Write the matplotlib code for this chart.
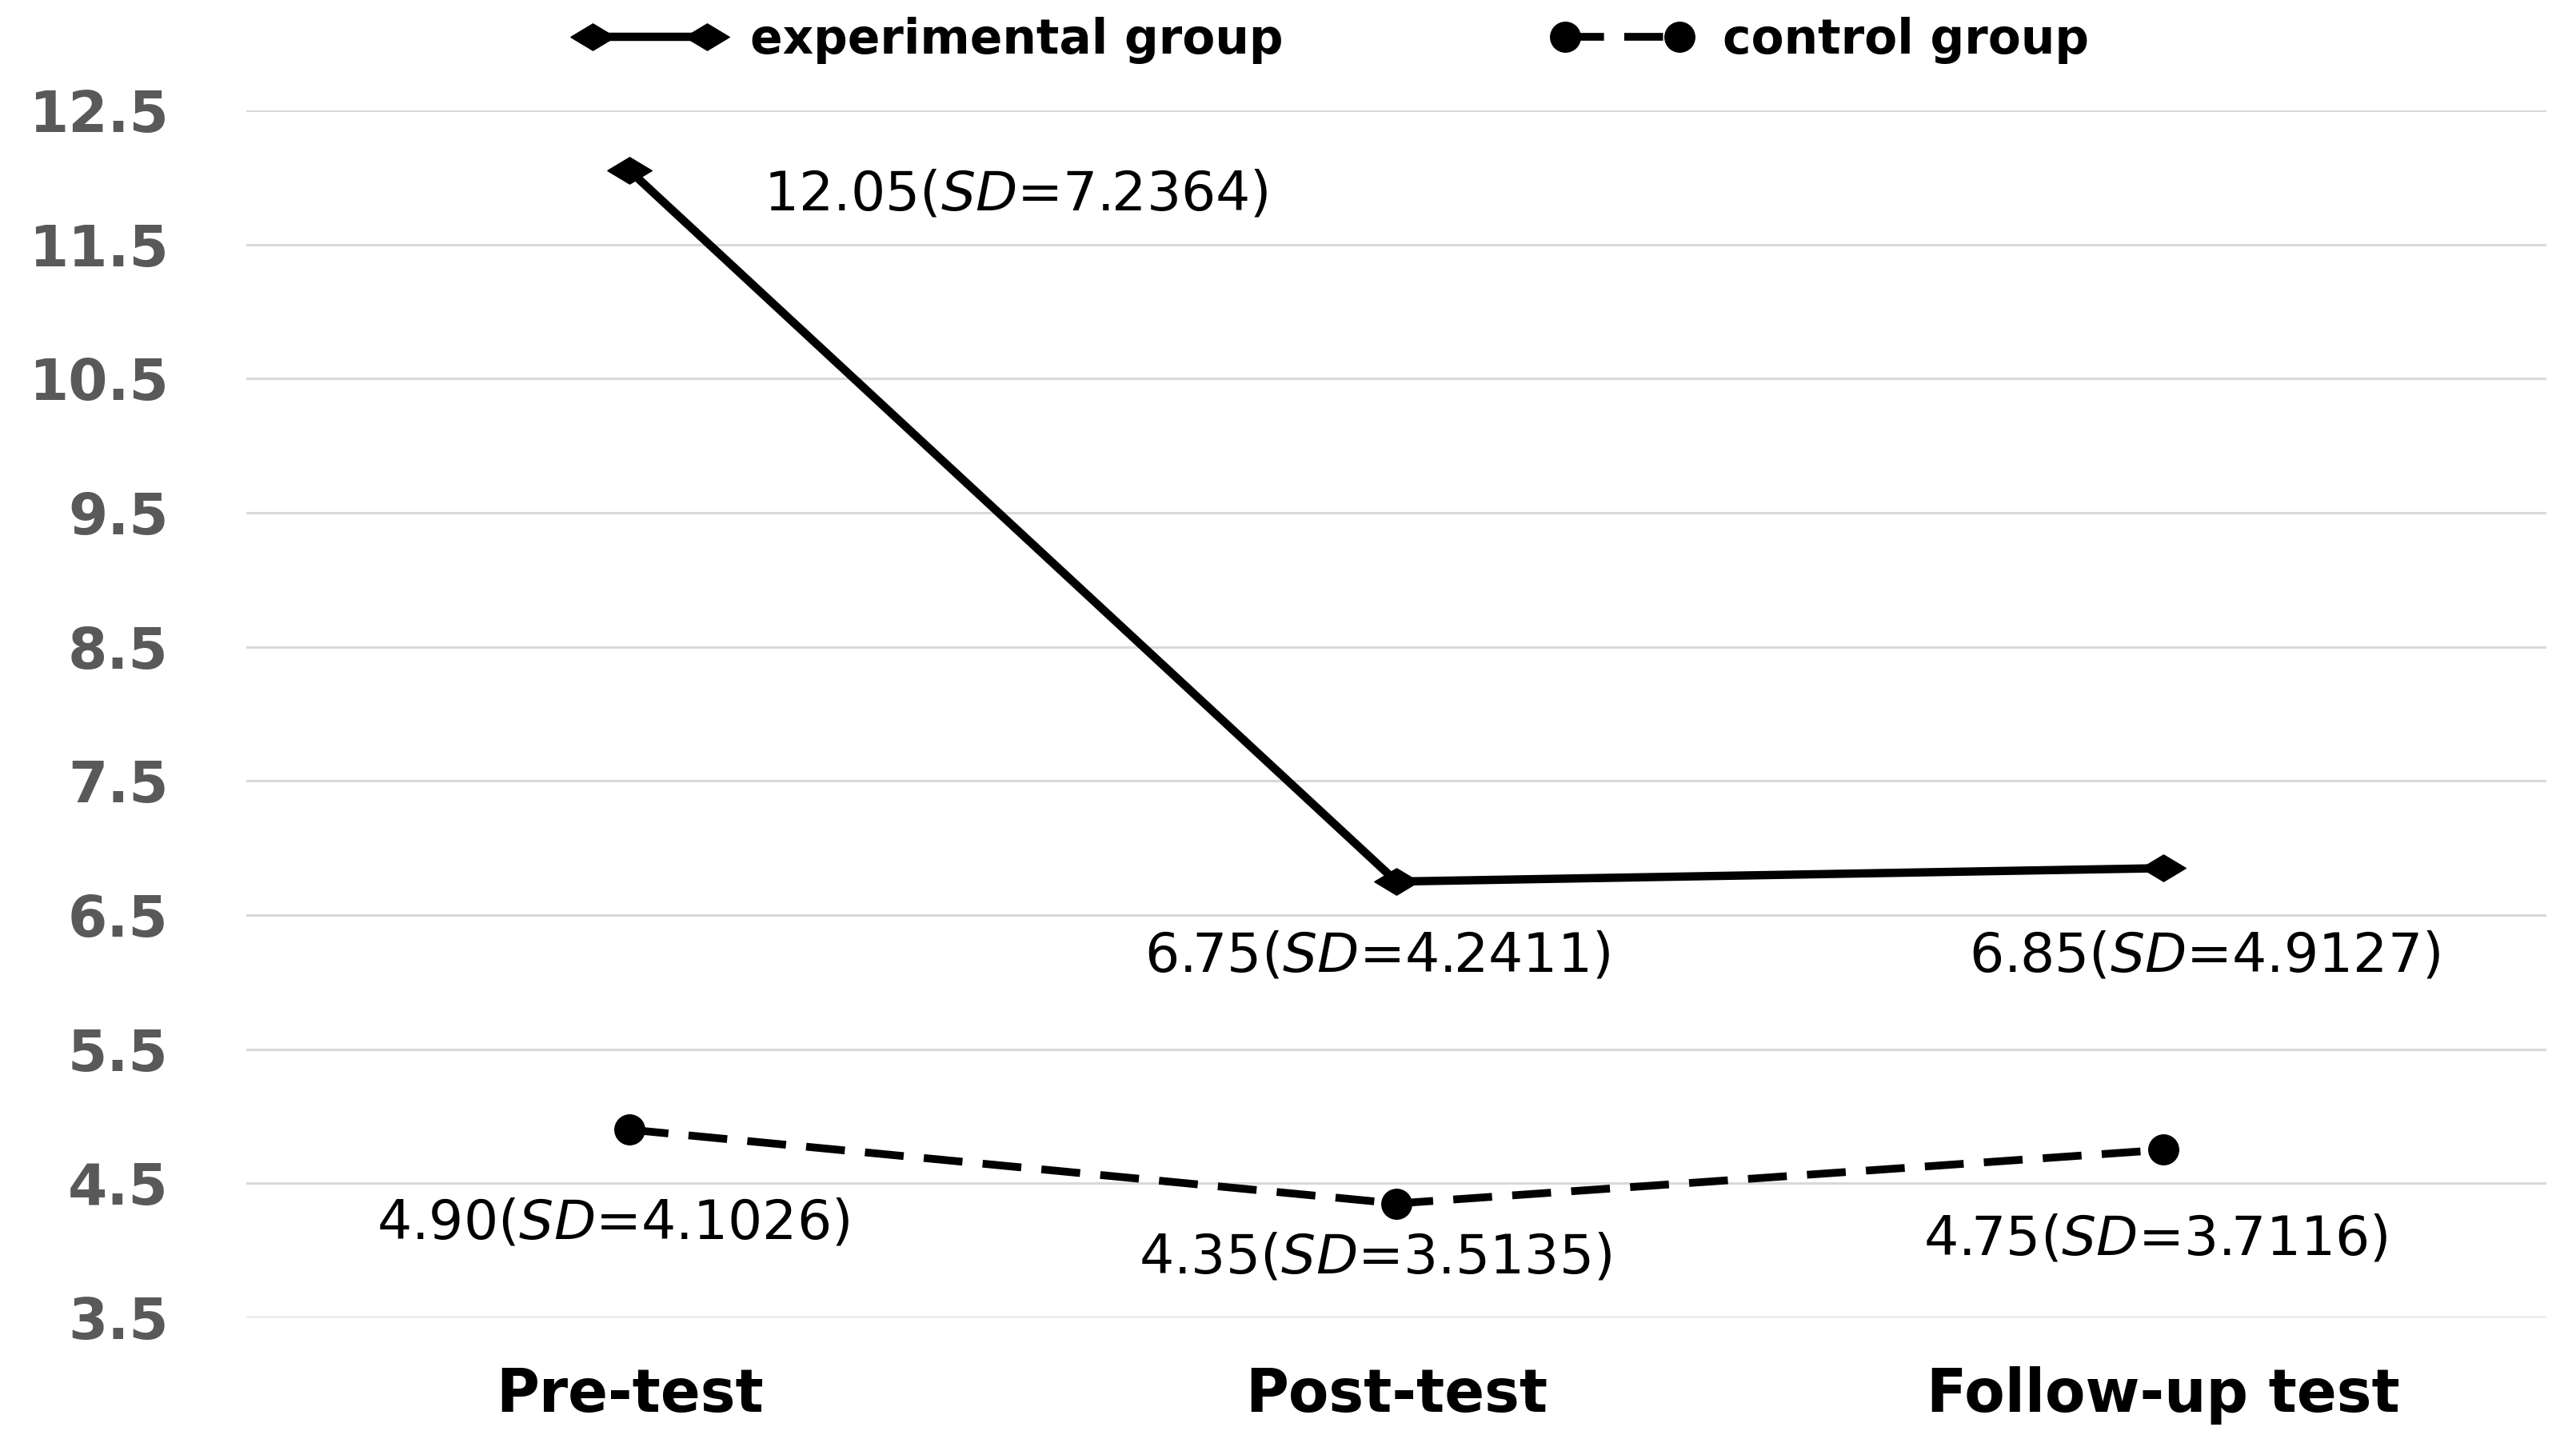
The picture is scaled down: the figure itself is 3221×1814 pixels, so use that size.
import matplotlib
matplotlib.use("Agg")
import matplotlib.pyplot as plt

# data
tests = ["Pre-test", "Post-test", "Follow-up test"]
exp_mean = [12.05, 6.75, 6.85]
exp_sd = [7.2364, 4.2411, 4.9127]
ctrl_mean = [4.90, 4.35, 4.75]
ctrl_sd = [4.1026, 3.5135, 3.7116]
yticks = [3.5, 4.5, 5.5, 6.5, 7.5, 8.5, 9.5, 10.5, 11.5, 12.5]

plt.rcParams['font.family'] = ['DejaVu Sans']
plt.rcParams['mathtext.fontset'] = 'custom'
plt.rcParams['mathtext.it'] = 'DejaVu Sans:italic'
plt.rcParams['mathtext.rm'] = 'DejaVu Sans'

fig = plt.figure(figsize=(32.21, 18.14), dpi=100)
ax = fig.add_axes([0.0956, 0.092, 0.893, 0.832])

x = list(range(len(tests)))

# diamond, a bit flatter than tall
diamond = [(-1, 0), (0, 0.6), (1, 0), (0, -0.6), (-1, 0)]

ax.plot(x, exp_mean, color='black', lw=7.5, marker=diamond, markersize=40,
        label='experimental group', zorder=3)
ax.plot(x, ctrl_mean, color='black', lw=7, dashes=(5, 2.6), marker='o',
        markersize=27, label='control group', zorder=3)

# value labels, offsets in points from each point
exp_off = [(348, -22), (-17, -67), (37, -79)]
ctrl_off = [(-15, -84), (-19, -49), (-7, -81)]
for i in x:
    ax.annotate(f"{exp_mean[i]:.2f}($SD$={exp_sd[i]:.4f})", (i, exp_mean[i]),
                xytext=exp_off[i], textcoords='offset points',
                ha='center', va='center', fontsize=49, color='black')
    ax.annotate(f"{ctrl_mean[i]:.2f}($SD$={ctrl_sd[i]:.4f})", (i, ctrl_mean[i]),
                xytext=ctrl_off[i], textcoords='offset points',
                ha='center', va='center', fontsize=49, color='black')

ax.set_xlim(-0.5, 2.5)
ax.set_ylim(3.5, 12.5)
ax.set_yticks(yticks)
ax.set_yticklabels([f"{v:.1f}" for v in yticks])
ax.set_xticks(x)
ax.set_xticklabels(tests)
ax.grid(axis='y', color='#d9d9d9', lw=2.2)
ax.set_axisbelow(True)
for s in ax.spines.values():
    s.set_visible(False)
ax.tick_params(axis='y', length=0, pad=70, labelsize=51, labelcolor='#595959')
ax.tick_params(axis='x', length=0, pad=44, labelsize=53)
for t in ax.get_yticklabels():
    t.set_fontweight('bold')
for t in ax.get_xticklabels():
    t.set_fontweight('bold')

fig.legend(loc='center', bbox_to_anchor=(0.5176, 0.972), ncol=2, frameon=False,
           numpoints=2, handlelength=3.0, handletextpad=0.6, columnspacing=5.6,
           prop={'size': 43, 'weight': 'bold'})

fig.savefig("out.png", dpi=100, facecolor='white')
